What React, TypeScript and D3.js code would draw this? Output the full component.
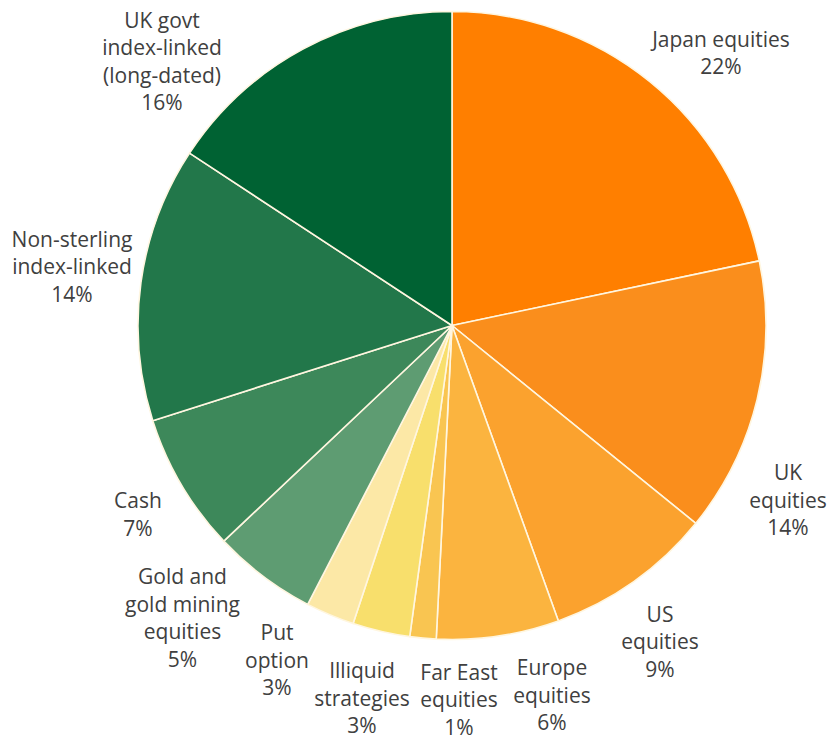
import React from "react";
import * as d3 from "d3";

const categories: string[][] = [
  ["Japan equities"],
  ["UK", "equities"],
  ["US", "equities"],
  ["Europe", "equities"],
  ["Far East", "equities"],
  ["Illiquid", "strategies"],
  ["Put", "option"],
  ["Gold and", "gold mining", "equities"],
  ["Cash"],
  ["Non-sterling", "index-linked"],
  ["UK govt", "index-linked", "(long-dated)"],
];

const values: number[] = [21.7, 14.15, 8.65, 6.3, 1.35, 2.95, 2.5, 5.35, 7.15, 14.15, 15.75];

const colors: string[] = [
  "#FF7F00",
  "#FA8E1C",
  "#FBA22E",
  "#FBB43F",
  "#F9C551",
  "#F8DF6C",
  "#FCE8A6",
  "#5E9C72",
  "#3D885A",
  "#22774A",
  "#006233",
];

// label anchor offsets from the pie centre (centre x, first baseline)
const labelOffsets: [number, number][] = [
  [269, -279],
  [336, 154.5],
  [208, 296],
  [100, 349.5],
  [7, 354],
  [-90, 352.5],
  [-175, 314.5],
  [-269.5, 258.5],
  [-314, 182.5],
  [-380, -79],
  [-290, -298],
];

const W = 829;
const H = 740;
const CX = 452;
const CY = 325.5;
const R = 314;
const LINE_H = 27.5;

export default function App() {
  const total = d3.sum(values);
  const data = values.map((v, i) => ({ v, i }));
  const pie = d3
    .pie<{ v: number; i: number }>()
    .value((d) => d.v)
    .sort(null)
    .startAngle(0)
    .endAngle(2 * Math.PI);
  const arcs = pie(data);
  const arc = d3.arc<d3.PieArcDatum<{ v: number; i: number }>>().innerRadius(0).outerRadius(R);

  return (
    <div style={{ position: "absolute", left: 0, top: 0 }}>
      <svg width={W} height={H} style={{ display: "block", background: "#fff" }}>
        <g transform={`translate(${CX},${CY})`}>
          {arcs.map((a) => (
            <path
              key={a.data.i}
              d={arc(a) || ""}
              fill={colors[a.data.i]}
              stroke="#FFF6E0"
              strokeWidth={1.6}
              strokeLinejoin="round"
            />
          ))}
          {arcs.map((a) => {
            const i = a.data.i;
            const [dx, dy] = labelOffsets[i];
            const lines = [...categories[i], `${Math.round((a.data.v / total) * 100)}%`];
            return (
              <text
                key={`l${i}`}
                x={dx}
                y={dy}
                textAnchor="middle"
                fontFamily="'Open Sans', 'Noto Sans', sans-serif"
                fontSize={21}
                fill="#404040"
              >
                {lines.map((ln, k) => (
                  <tspan key={k} x={dx} y={dy + k * LINE_H}>
                    {ln}
                  </tspan>
                ))}
              </text>
            );
          })}
        </g>
      </svg>
    </div>
  );
}
